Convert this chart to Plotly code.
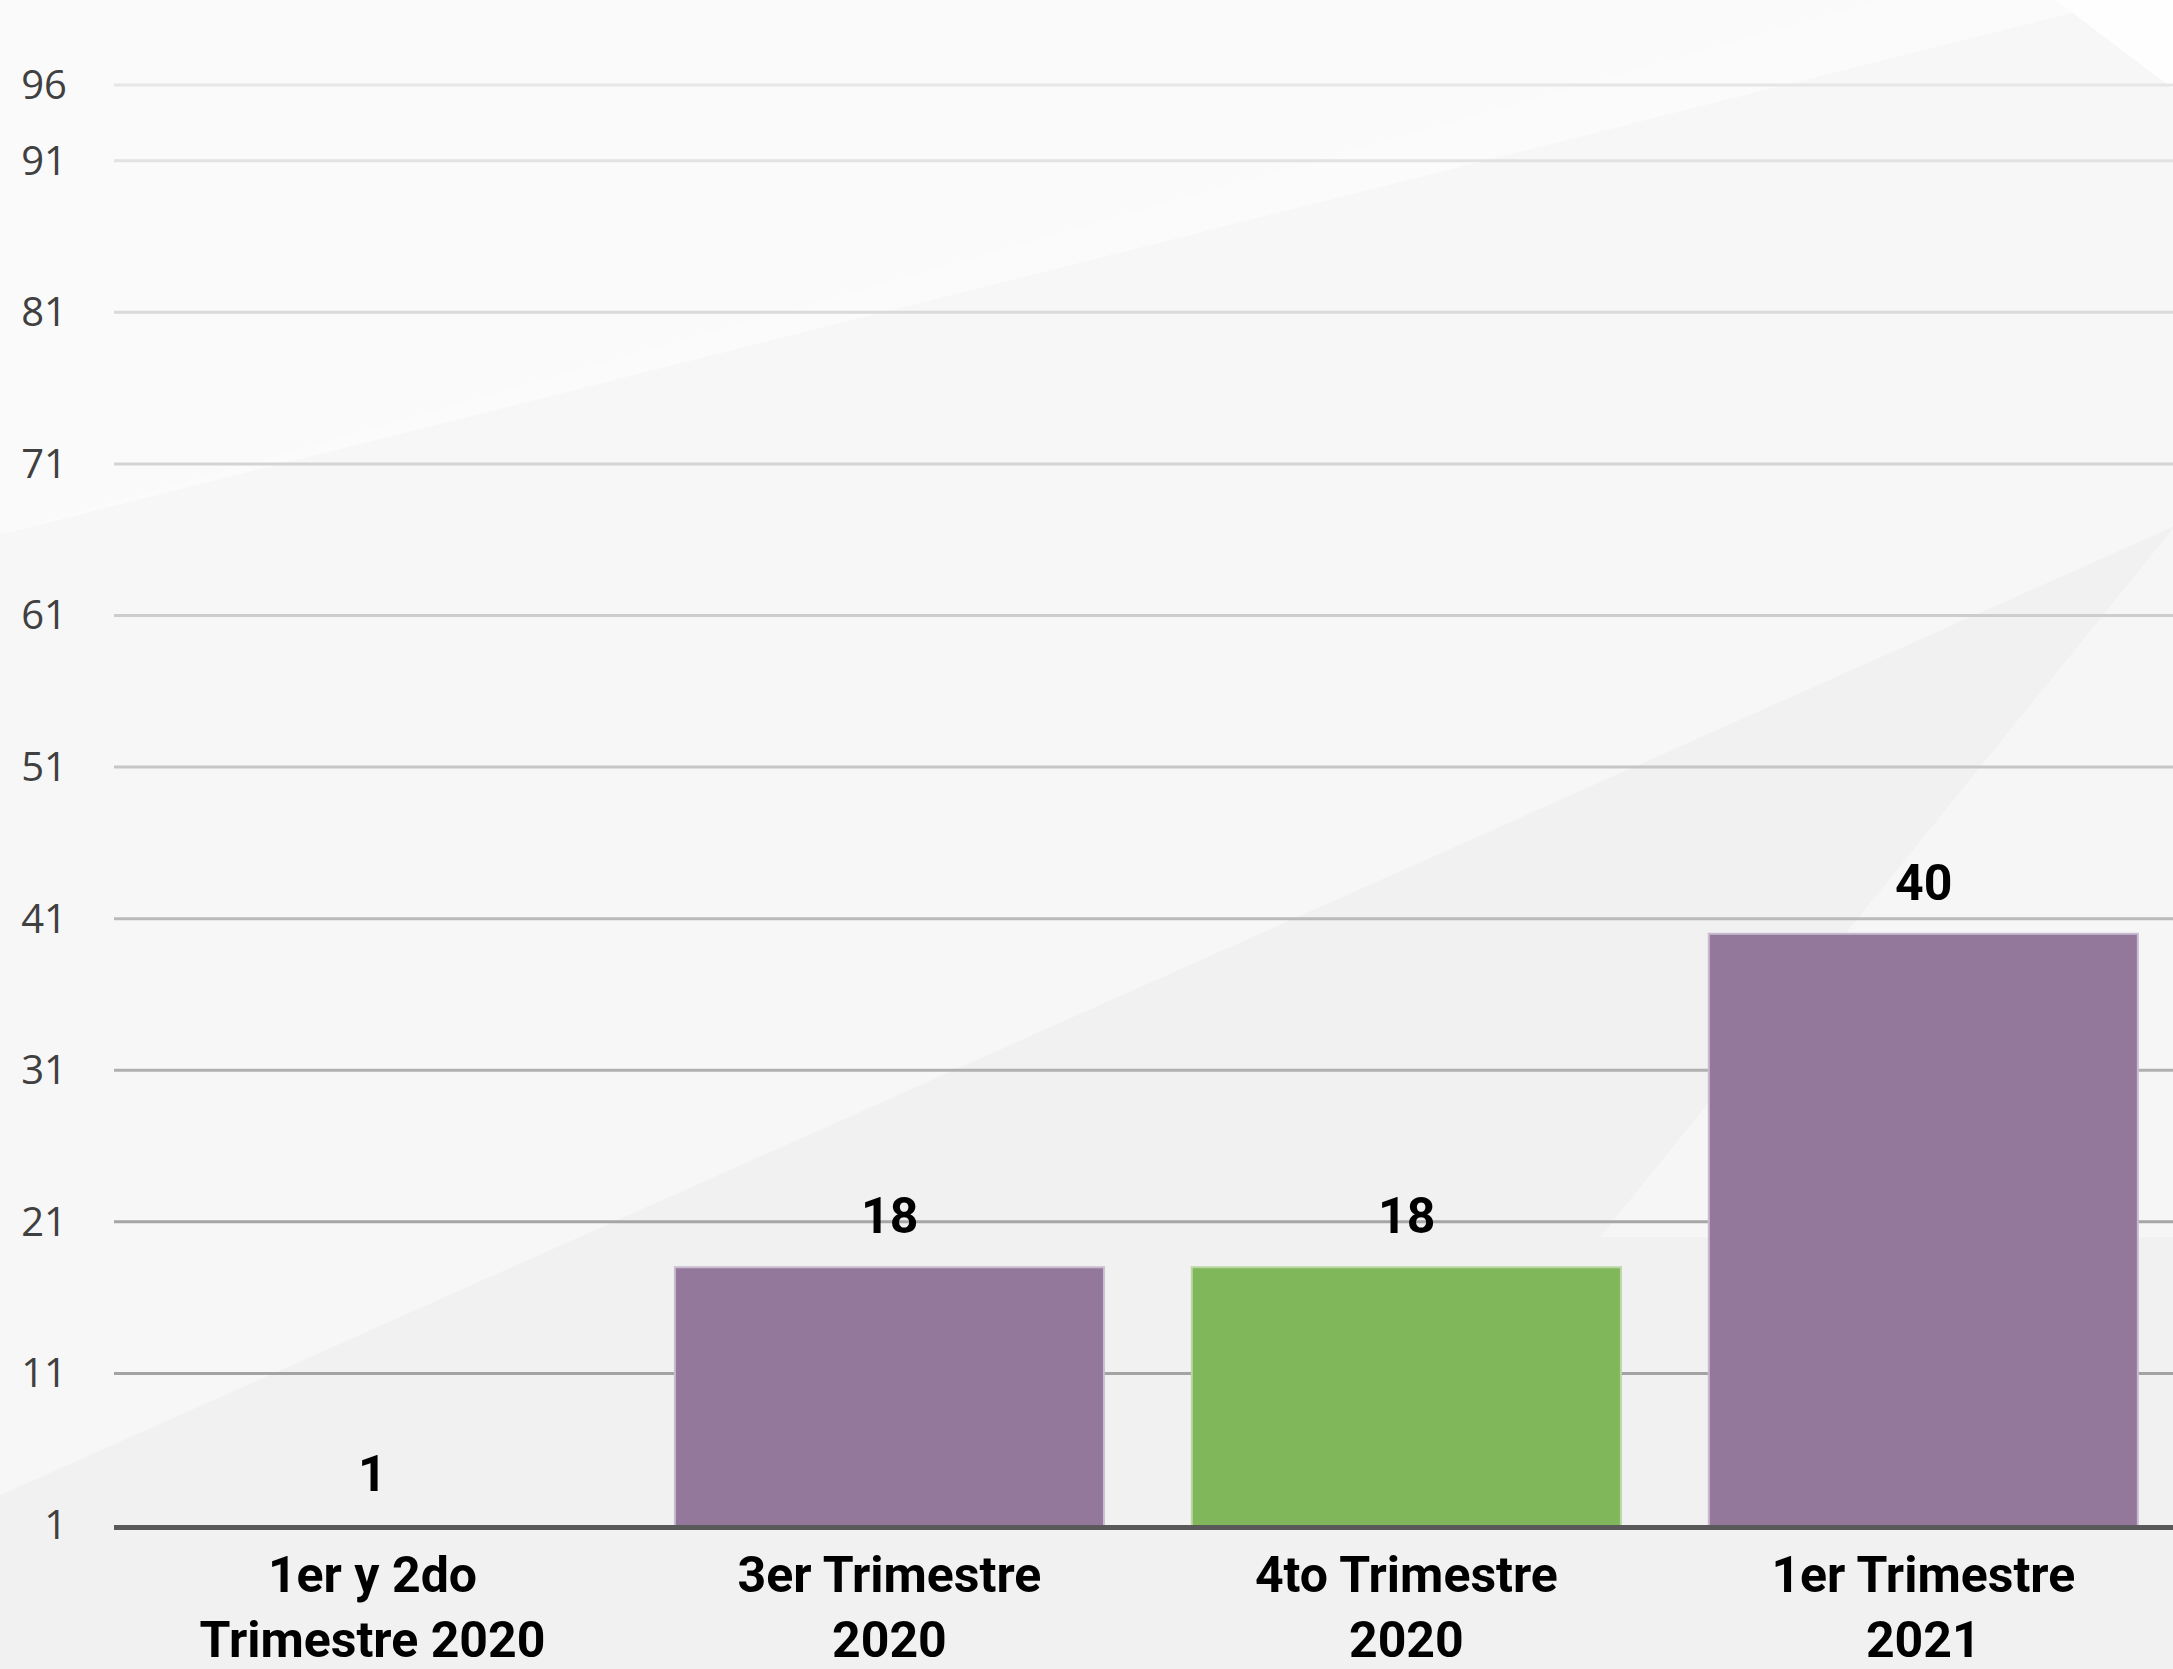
import plotly.graph_objects as go

# ---- data ----
categories = ["1er y 2do<br>Trimestre 2020", "3er Trimestre<br>2020",
              "4to Trimestre<br>2020", "1er Trimestre<br>2021"]
values = [1, 18, 18, 40]
bar_colors = ["#93789B", "#93789B", "#80B75A", "#93789B"]
edge_colors = ["#c9bcd0", "#c9bcd0", "#b9d6a4", "#c9bcd0"]
y_ticks = [1, 11, 21, 31, 41, 51, 61, 71, 81, 91, 96]
grid_colors = ["#595959", "#a3a3a3", "#a6a6a6", "#b0b0b0", "#bababa",
               "#c6c6c6", "#cdcdcd", "#d3d3d3", "#dadada", "#e2e2e2", "#e6e6e6"]

W, H = 2173, 1669
L, R, T = 114, 0, 34
PLOT_BOTTOM = 1541
B = H - PLOT_BOTTOM
PW, PH = W - L - R, H - T - B


def px(x, y):
    # page pixel -> paper coords
    return (x - L) / PW, (H - B - y) / PH


def poly(points):
    pts = [px(x, y) for x, y in points]
    return "M " + " L ".join(f"{a:.4f},{b:.4f}" for a, b in pts) + " Z"


# no outline on bars that sit on the axis baseline
edge_widths = [0 if v <= y_ticks[0] else 2 for v in values]

fig = go.Figure()
fig.add_trace(go.Bar(
    x=categories, y=values,
    marker=dict(color=bar_colors, line=dict(color=edge_colors, width=edge_widths)),
    width=0.83, hoverinfo="skip",
))

shapes = []
# subtle background facets
bg = [
    ([(-20, -20), (2200, -20), (2200, -20), (-20, 545)], "rgba(255,255,255,0.55)"),
    ([(-20, 545), (1950, -20), (2200, -20), (2200, 520), (-20, 1520)], "rgba(255,255,255,0.30)"),
    ([(1600, 1250), (2200, 500), (2200, 1250)], "rgba(255,255,255,0.55)"),
    ([(2030, -20), (2200, -20), (2200, 110)], "rgba(255,255,255,0.8)"),
    ([(-20, 1520), (2200, 520), (2200, 1700), (-20, 1700)], "rgba(232,232,232,0.2)"),
]
for pts, col in bg:
    shapes.append(dict(type="path", path=poly(pts), xref="paper", yref="paper",
                       fillcolor=col, line=dict(width=0), layer="below"))
# gridlines
for v, c in zip(y_ticks[1:], grid_colors[1:]):
    shapes.append(dict(type="line", xref="paper", yref="y", x0=0, x1=1, y0=v, y1=v,
                       line=dict(color=c, width=3), layer="below"))

annotations = []
for c, v in zip(categories, values):
    annotations.append(dict(x=c, y=v, text=f"<b>{v}</b>", showarrow=False,
                            yanchor="middle", yshift=51,
                            font=dict(family="Roboto, Open Sans, sans-serif",
                                      size=50, color="#000000")))

fig.update_layout(
    width=W, height=H,
    margin=dict(l=L, r=R, t=T, b=B, pad=0),
    paper_bgcolor="#f4f4f4", plot_bgcolor="rgba(0,0,0,0)",
    showlegend=False, bargap=0.17,
    shapes=shapes, annotations=annotations,
    xaxis=dict(
        range=[-0.5, 3.483], showgrid=False, zeroline=False,
        showline=True, linecolor="#595959", linewidth=5,
        ticks="", ticklabelstandoff=2,
        tickfont=dict(family="Roboto, Open Sans, sans-serif",
                      size=50, color="#000000", weight="bold"),
    ),
    yaxis=dict(
        range=[1, 99.36], tickmode="array", tickvals=y_ticks,
        ticktext=[str(t) for t in y_ticks],
        showgrid=False, zeroline=False, showline=False, ticks="",
        ticklabelstandoff=46,
        tickfont=dict(family="Open Sans, sans-serif", size=40, color="#404040"),
    ),
)

fig.write_html(
    "out.html",
    config={"displayModeBar": False, "staticPlot": True},
    post_script="document.body.style.margin='0';"
                "document.body.style.overflow='hidden';"
                "document.body.style.background='#f4f4f4';",
)
